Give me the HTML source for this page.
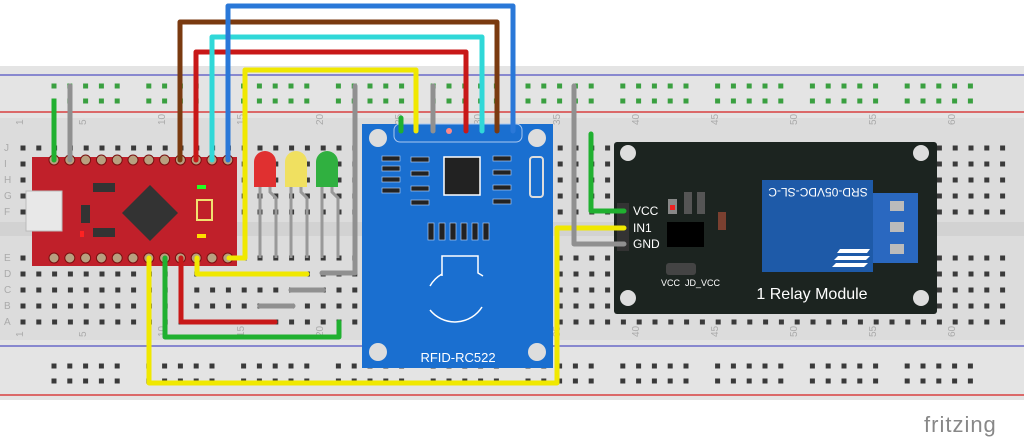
<!DOCTYPE html>
<html><head><meta charset="utf-8"><style>
html,body{margin:0;padding:0;background:#fff;width:1024px;height:441px;overflow:hidden}
svg{display:block}
text{font-family:"Liberation Sans",sans-serif}
</style></head><body>
<svg id="s" width="1024" height="441" viewBox="0 0 1024 441" xmlns="http://www.w3.org/2000/svg">
<!-- breadboard -->
<rect x="0" y="66" width="1024" height="334" fill="#e4e4e4"/>
<rect x="0" y="118" width="1024" height="222" fill="#dcdcdc"/>
<rect x="0" y="222" width="1024" height="14" fill="#d2d2d2"/>
<line x1="0" y1="75" x2="1024" y2="75" stroke="#6a6ac8" stroke-width="1.5"/>
<line x1="0" y1="112" x2="1024" y2="112" stroke="#d84040" stroke-width="1.5"/>
<line x1="0" y1="346" x2="1024" y2="346" stroke="#6a6ac8" stroke-width="1.5"/>
<line x1="0" y1="395" x2="1024" y2="395" stroke="#d84040" stroke-width="1.5"/>
<g id="holes"></g>
<g font-size="10" fill="#aaa" id="labels"></g>
<text x="924" y="432" font-size="22" fill="#888" letter-spacing="1">fritzing</text>

<!-- Arduino Pro Micro -->
<rect x="32" y="157" width="205" height="109" fill="#c0202a"/>
<rect x="26" y="191" width="36" height="40" fill="#e8e8e8" stroke="#bbb"/>
<polygon points="150,185 178,213 150,241 122,213" fill="#333"/>
<rect x="93" y="183" width="22" height="9" fill="#333"/>
<rect x="93" y="228" width="22" height="9" fill="#333"/>
<rect x="81" y="205" width="9" height="18" fill="#333"/>
<rect x="197" y="200" width="15" height="20" fill="none" stroke="#f0e070" stroke-width="2"/>
<rect x="197" y="185" width="9" height="4" fill="#2f2"/>
<rect x="197" y="234" width="9" height="4" fill="#fd0"/>
<rect x="80" y="231" width="4" height="6" fill="#f22"/>
<g id="ardpins"></g>

<!-- LEDs -->
<g stroke="#999" stroke-width="3" fill="none">
<path d="M260,185 V258 M270,185 V192 L276,198 V258"/>
<path d="M291,185 V258 M301,185 V192 L307,198 V258"/>
<path d="M322,185 V258 M332,185 V192 L338,198 V258"/>
</g>
<path d="M254,187 V162 a11,11 0 0 1 22,0 V187 Z" fill="#e03030"/>
<path d="M285,187 V162 a11,11 0 0 1 22,0 V187 Z" fill="#f0e060"/>
<path d="M316,187 V162 a11,11 0 0 1 22,0 V187 Z" fill="#30b040"/>

<!-- RFID -->
<rect x="362" y="124" width="191" height="244" fill="#1a6fd0"/>
<rect x="394" y="124" width="128" height="18" rx="6" fill="#1a6fd0" stroke="#aac8f0"/>
<circle cx="378" cy="138" r="9" fill="#ddd"/><circle cx="537" cy="138" r="9" fill="#ddd"/>
<circle cx="378" cy="352" r="9" fill="#ddd"/><circle cx="537" cy="352" r="9" fill="#ddd"/>
<rect x="444" y="157" width="36" height="38" fill="#222" stroke="#fff" stroke-width="1.5"/>
<rect x="530" y="157" width="13" height="40" rx="3" fill="#1a6fd0" stroke="#ddd" stroke-width="2"/>
<g fill="#222" stroke="#aac8f0" stroke-width="0.7">
<rect x="382" y="156" width="18" height="5"/><rect x="382" y="166" width="18" height="5"/><rect x="382" y="177" width="18" height="5"/><rect x="382" y="188" width="18" height="5"/>
<rect x="411" y="157" width="18" height="5"/><rect x="411" y="171" width="18" height="5"/><rect x="411" y="186" width="18" height="5"/><rect x="411" y="200" width="18" height="5"/>
<rect x="493" y="156" width="18" height="5"/><rect x="493" y="170" width="18" height="5"/><rect x="493" y="185" width="18" height="5"/><rect x="493" y="199" width="18" height="5"/>
<rect x="428" y="223" width="6" height="17"/><rect x="439" y="223" width="6" height="17"/><rect x="450" y="223" width="6" height="17"/><rect x="461" y="223" width="6" height="17"/><rect x="472" y="223" width="6" height="17"/><rect x="483" y="223" width="6" height="17"/>
</g>
<g fill="none" stroke="#fff" stroke-width="1.5">
<path d="M442,276 V256 H478 V273 L483,276"/>
<path d="M430,286 a32,32 0 0 1 12,-12"/>
<path d="M430,310 a32,32 0 0 0 52,-3"/>
</g>
<text x="458" y="362" font-size="13" fill="#fff" text-anchor="middle">RFID-RC522</text>

<!-- Relay -->
<rect x="614" y="142" width="323" height="172" rx="3" fill="#1c2420"/>
<circle cx="628" cy="153" r="8" fill="#ddd"/><circle cx="921" cy="153" r="8" fill="#ddd"/>
<circle cx="628" cy="298" r="8" fill="#ddd"/><circle cx="921" cy="298" r="8" fill="#ddd"/>
<rect x="762" y="180" width="111" height="92" fill="#1e5aa8"/>
<rect x="873" y="193" width="45" height="70" fill="#2a68c0"/>
<g fill="#bbb"><rect x="890" y="201" width="14" height="10"/><rect x="890" y="222" width="14" height="10"/><rect x="890" y="244" width="14" height="10"/></g>
<text x="818" y="196" font-size="12" fill="#fff" text-anchor="middle" transform="rotate(180 818 192)">SRD-05VDC-SL-C</text>
<g fill="#fff"><polygon points="838,256 870,256 866,260 834,260"/><polygon points="836,263 868,263 864,267 832,267"/><polygon points="840,249 870,249 867,253 837,253"/></g>
<rect x="667" y="222" width="37" height="25" fill="#000"/>
<rect x="668" y="199" width="9" height="15" fill="#888"/><rect x="670" y="205" width="5" height="5" fill="#e22"/>
<rect x="684" y="192" width="8" height="22" fill="#555"/><rect x="697" y="192" width="8" height="22" fill="#555"/>
<rect x="718" y="212" width="8" height="18" fill="#7a4030"/>
<rect x="666" y="263" width="30" height="12" rx="3" fill="#444"/>
<g fill="#fff" font-size="9"><text x="661" y="286">VCC</text><text x="685" y="286">JD_VCC</text></g>
<text x="812" y="299" font-size="16" fill="#fff" text-anchor="middle">1 Relay Module</text>
<rect x="617" y="203" width="12" height="48" fill="#333"/>
<g fill="#fff" font-size="12"><text x="633" y="215">VCC</text><text x="633" y="232">IN1</text><text x="633" y="248">GND</text></g>

<!-- wires -->
<g fill="none" stroke-width="5" stroke-linejoin="round" stroke-linecap="round">
<path d="M54,101 V160" stroke="#20b030"/>
<path d="M70,86 V160" stroke="#909090"/>
<path d="M180,160 V22 H497 V131" stroke="#7a3a10"/>
<path d="M196,160 V52 H466 V131" stroke="#c81818"/>
<path d="M212,160 V37 H482 V131" stroke="#30d8d8"/>
<path d="M228,160 V6 H513 V131" stroke="#2a78d8"/>
<path d="M229,258 H245 V70 H416 V131" stroke="#f0e800"/>
<path d="M401,131 V118" stroke="#20b030"/>
<path d="M355,86 V273 H322" stroke="#909090"/>
<path d="M433,86 V131" stroke="#909090"/>
<path d="M197,258 V274 H307" stroke="#f0e800"/>
<path d="M291,290 H323" stroke="#909090"/>
<path d="M260,306 H293" stroke="#909090"/>
<path d="M181,258 V322 H275" stroke="#c81818"/>
<path d="M165,258 V337 H339 V322" stroke="#20b030"/>
<path d="M149,258 V383 H557 V228 H624" stroke="#f0e800"/>
<path d="M574,86 V244 H624" stroke="#909090"/>
<path d="M591,134 V211 H624" stroke="#20b030"/>
</g>
<circle cx="449" cy="131" r="3" fill="#f88"/>
</svg>
<script>
(function(){
var ns="http://www.w3.org/2000/svg",g=document.getElementById('holes'),L=document.getElementById('labels');
function r(x,y,c){var e=document.createElementNS(ns,'rect');e.setAttribute('x',x-2.5);e.setAttribute('y',y-2.5);e.setAttribute('width',5);e.setAttribute('height',5);e.setAttribute('fill',c);g.appendChild(e);}
var P=15.8;
for(var c=0;c<63;c++){var x=23+c*P;
 [148,164,180,196,212,258,274,290,306,322].forEach(function(y){r(x,y,'#3a3a3a');});}
for(var k=0;k<60;k++){if(k%6==5)continue;var x=54+k*P;r(x,86,'#3aa040');r(x,101,'#3aa040');r(x,366,'#3a3a3a');r(x,381,'#3a3a3a');}
for(var n=1;n<=60;n++){if(n!=1&&n%5)continue;var x=23+(n-1)*P;
 [[128],[340]].forEach(function(a){var t=document.createElementNS(ns,'text');t.setAttribute('x',x+3);t.setAttribute('y',a[0]);t.setAttribute('transform','rotate(-90 '+x+' '+a[0]+')');t.textContent=n;L.appendChild(t);});}
'JIHGF'.split('').forEach(function(ch,i){var t=document.createElementNS(ns,'text');t.setAttribute('x',4);t.setAttribute('y',151+i*16);t.textContent=ch;L.appendChild(t);});
'EDCBA'.split('').forEach(function(ch,i){var t=document.createElementNS(ns,'text');t.setAttribute('x',4);t.setAttribute('y',261+i*16);t.textContent=ch;L.appendChild(t);});
var A=document.getElementById('ardpins');
for(var i=0;i<12;i++){var x=54+i*P;[160,258].forEach(function(y){var e=document.createElementNS(ns,'circle');e.setAttribute('cx',x);e.setAttribute('cy',y);e.setAttribute('r',5);e.setAttribute('fill','#b8a080');e.setAttribute('stroke','#7a1010');A.appendChild(e);});}
})();
</script>
</body></html>
